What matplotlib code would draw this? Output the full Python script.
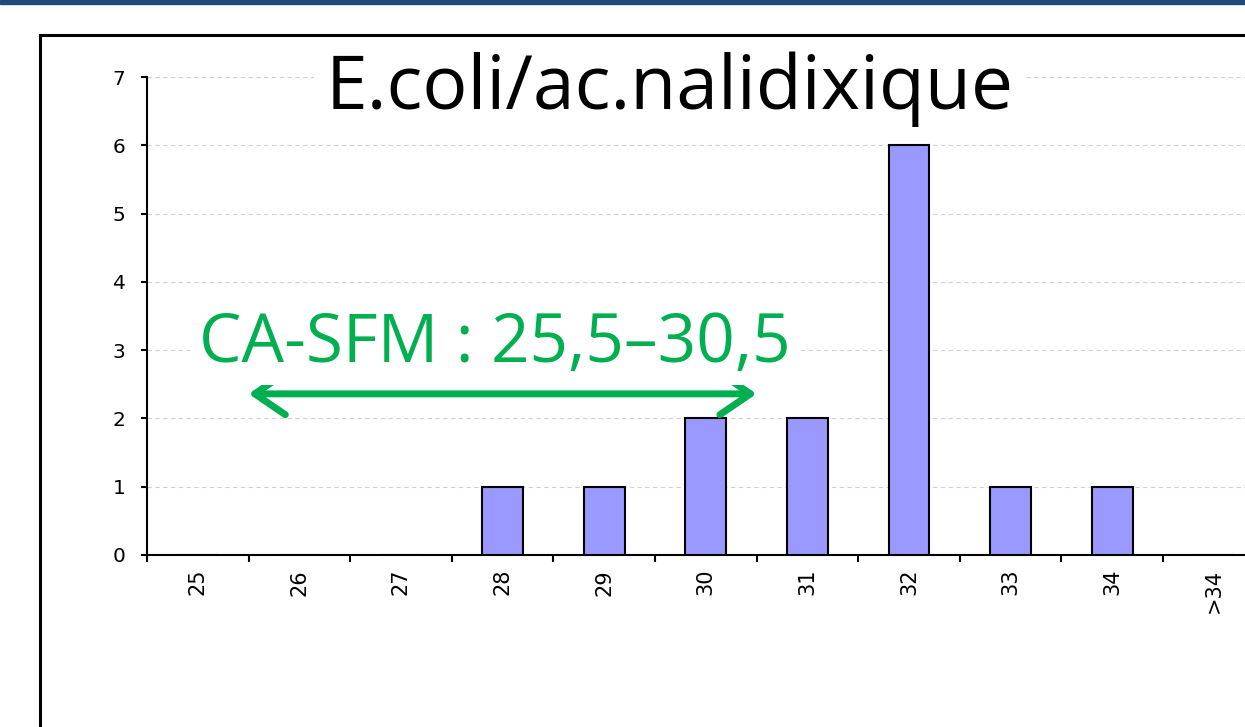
import numpy as np
import matplotlib.pyplot as plt
from matplotlib.patches import Rectangle

categories = ["25", "26", "27", "28", "29", "30", "31", "32", "33", "34", ">34"]
counts = [0, 0, 0, 1, 1, 2, 2, 6, 1, 1, 0]
title = "E.coli/ac.nalidixique"
range_label = "CA-SFM : 25,5\u201330,5"
range_low, range_high = 25.5, 30.5
first_cat = 25
arrow_level = 2.36

W, H = 1245, 727
fig = plt.figure(figsize=(W / 100, H / 100), dpi=100)

# slide decorations: blue band on top, black frame round the chart
fig.patches.append(Rectangle((0, 1 - 4 / H), 1, 4 / H, transform=fig.transFigure,
                             color="#1F497D", zorder=0))
fig.patches.append(Rectangle((40 / W, -0.1), 1.5, 1 - 35 / H + 0.1, transform=fig.transFigure,
                             fill=False, ec="black", lw=2.2, zorder=0))

ax = fig.add_axes([147 / W, 1 - 555 / H, 1117.6 / W, 478 / H])
x = np.arange(len(categories))
ax.bar(x, counts, width=0.4, color="#9999FF", edgecolor="black", linewidth=1.5, zorder=3)
ax.set_xlim(-0.5, len(categories) - 0.5)
ax.set_ylim(0, 7)

ax.set_xticks(x, categories, rotation=90)
ax.set_xticks(np.arange(-0.5, len(categories)), minor=True)
ax.tick_params(axis="x", which="major", length=0, pad=10, labelsize=15)
ax.tick_params(axis="x", which="minor", length=5, width=1.5, direction="out")
ax.set_yticks(range(8))
ax.tick_params(axis="y", length=4.5, width=1.5, pad=11, labelsize=14.5)

ax.yaxis.grid(True, ls=(0, (4, 3)), color="#d0d0d0", lw=0.8)
ax.set_axisbelow(True)
for s in ["top", "right"]:
    ax.spines[s].set_visible(False)
for s in ["left", "bottom"]:
    ax.spines[s].set_linewidth(1.5)

fig.text(669.5 / W, 1 - 109 / H, title, ha="center", va="baseline", fontsize=54,
         family="Open Sans", zorder=5,
         bbox=dict(boxstyle="square,pad=0.15", fc="white", ec="none"))
fig.text(495 / W, 1 - 362 / H, range_label, ha="center", va="baseline", fontsize=48.5,
         family="Open Sans", color="#00B050", zorder=5,
         bbox=dict(boxstyle="square,pad=0.1", fc="white", ec="none"))

ax.annotate("", xy=(range_high - first_cat, arrow_level), xytext=(range_low - first_cat, arrow_level),
            arrowprops=dict(arrowstyle="<->,head_length=1.1,head_width=0.75", mutation_scale=20,
                            color="#00B050", lw=5, shrinkA=0, shrinkB=0,
                            capstyle="round", joinstyle="round"),
            zorder=6)

fig.savefig("out.png", dpi=100, facecolor="white")
